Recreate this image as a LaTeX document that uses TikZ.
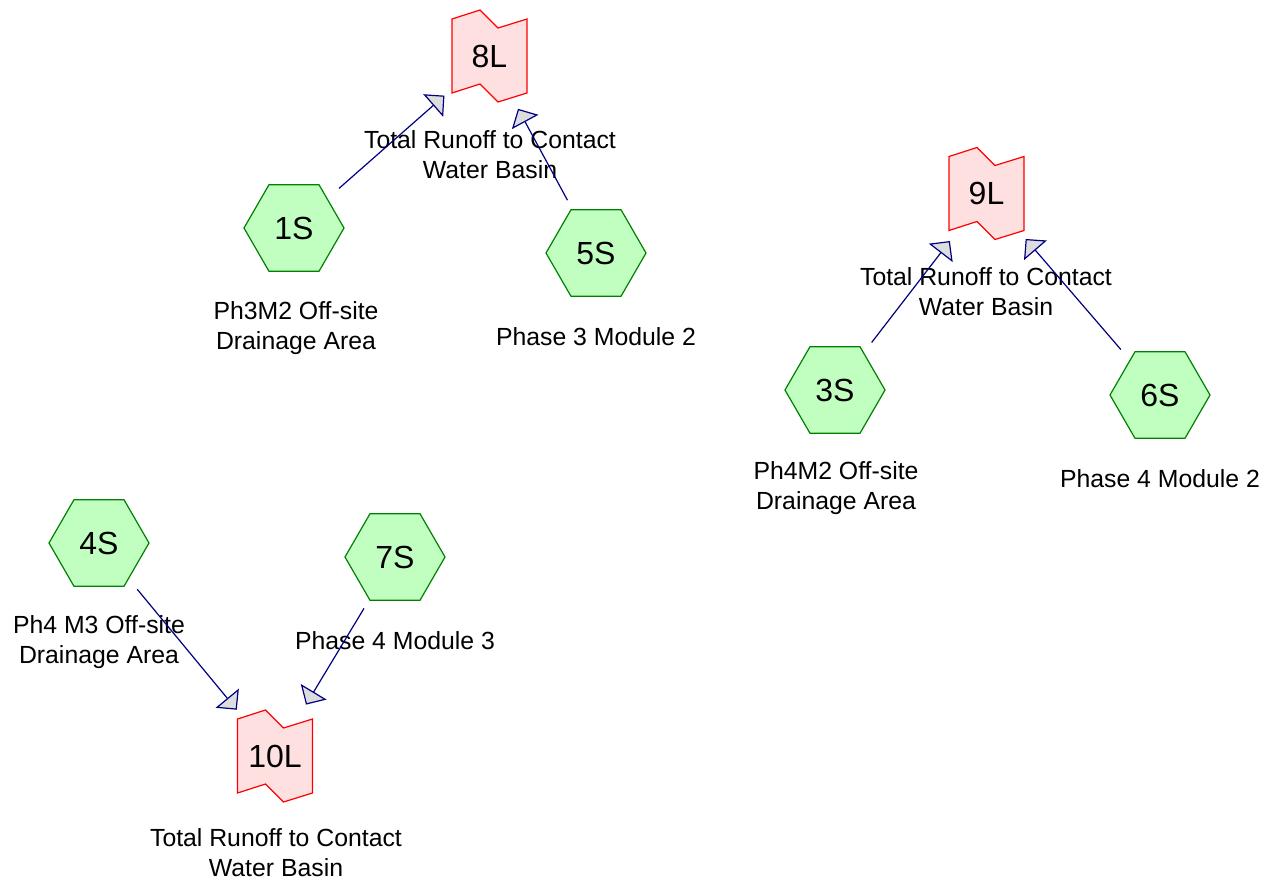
\documentclass[tikz,border=0pt]{standalone}
\usepackage{fontspec}
\setmainfont{Liberation Sans}
\usetikzlibrary{arrows.meta,shapes.geometric}
\definecolor{hexfill}{RGB}{192,255,192}
\definecolor{hexline}{RGB}{0,128,0}
\definecolor{pondfill}{RGB}{255,224,224}
\definecolor{pondline}{RGB}{255,0,0}
\definecolor{flowline}{RGB}{0,0,128}
\definecolor{headfill}{RGB}{221,221,221}
\tikzset{
  subcat/.style={regular polygon, regular polygon sides=6, minimum size=100pt,
    inner sep=0pt, outer sep=0pt, draw=hexline, fill=hexfill, line width=1.2pt,
    font=\fontsize{32}{36}\selectfont},
  pondtext/.style={rectangle, minimum width=75pt, minimum height=90pt,
    inner sep=0pt, font=\fontsize{32}{36}\selectfont},
  pondoutline/.style={draw=pondline, fill=pondfill, line width=1.2pt, line join=miter},
  lbl/.style={align=center, inner sep=0pt, font=\fontsize{24.8}{30}\selectfont},
  flow/.style={draw=flowline, line width=1.2pt, shorten <=60pt, shorten >=60pt,
    -{Triangle[length=15pt,width=30pt,fill=headfill,line width=1.2pt]}},
}
\newcommand{\pondat}[3]{%
  \begin{scope}[shift={(#2)}]
    \draw[pondoutline] (-37.5,-37) -- (-9.5,-46) -- (8.5,-28) -- (37.5,-37)
      -- (37.5,37) -- (8.5,46) -- (-9.5,28) -- (-37.5,37) -- cycle;
  \end{scope}
  \node[pondtext] (#1) at (#2) {#3};%
}
\begin{document}
\begin{tikzpicture}[x=1pt,y=-1pt]
\useasboundingbox (0,0) rectangle (1275,888);
% ponds
\pondat{n8L}{489.5,56}{8L}
\pondat{n9L}{986.5,193.5}{9L}
\pondat{n10L}{275,756}{10L}
% subcatchments
\node[subcat] (n1S) at (294,228) {1S};
\node[subcat] (n5S) at (596,253) {5S};
\node[subcat] (n3S) at (835,390) {3S};
\node[subcat] (n6S) at (1160,395) {6S};
\node[subcat] (n4S) at (99,543) {4S};
\node[subcat] (n7S) at (395,557) {7S};
% labels
\node[lbl] (l8L) at (490,155) {Total Runoff to Contact\\Water Basin};
\node[lbl] (l9L) at (986,292) {Total Runoff to Contact\\Water Basin};
\node[lbl] (l10L) at (276,853) {Total Runoff to Contact\\Water Basin};
\node[lbl] (l1S) at (296,328) {Ph3M2 Off-site\\Drainage Area};
\node[lbl] (l5S) at (596,337) {Phase 3 Module 2};
\node[lbl] (l3S) at (836,488) {Ph4M2 Off-site\\Drainage Area};
\node[lbl] (l6S) at (1160,479) {Phase 4 Module 2};
\node[lbl] (l4S) at (99,642) {Ph4 M3 Off-site\\Drainage Area};
\node[lbl] (l7S) at (395,641) {Phase 4 Module 3};
% flows
\draw[flow] (n1S.center) -- (n8L.center);
\draw[flow] (n5S.center) -- (n8L.center);
\draw[flow] (n3S.center) -- (n9L.center);
\draw[flow] (n6S.center) -- (n9L.center);
\draw[flow] (n4S.center) -- (n10L.center);
\draw[flow] (n7S.center) -- (n10L.center);
\end{tikzpicture}
\end{document}
